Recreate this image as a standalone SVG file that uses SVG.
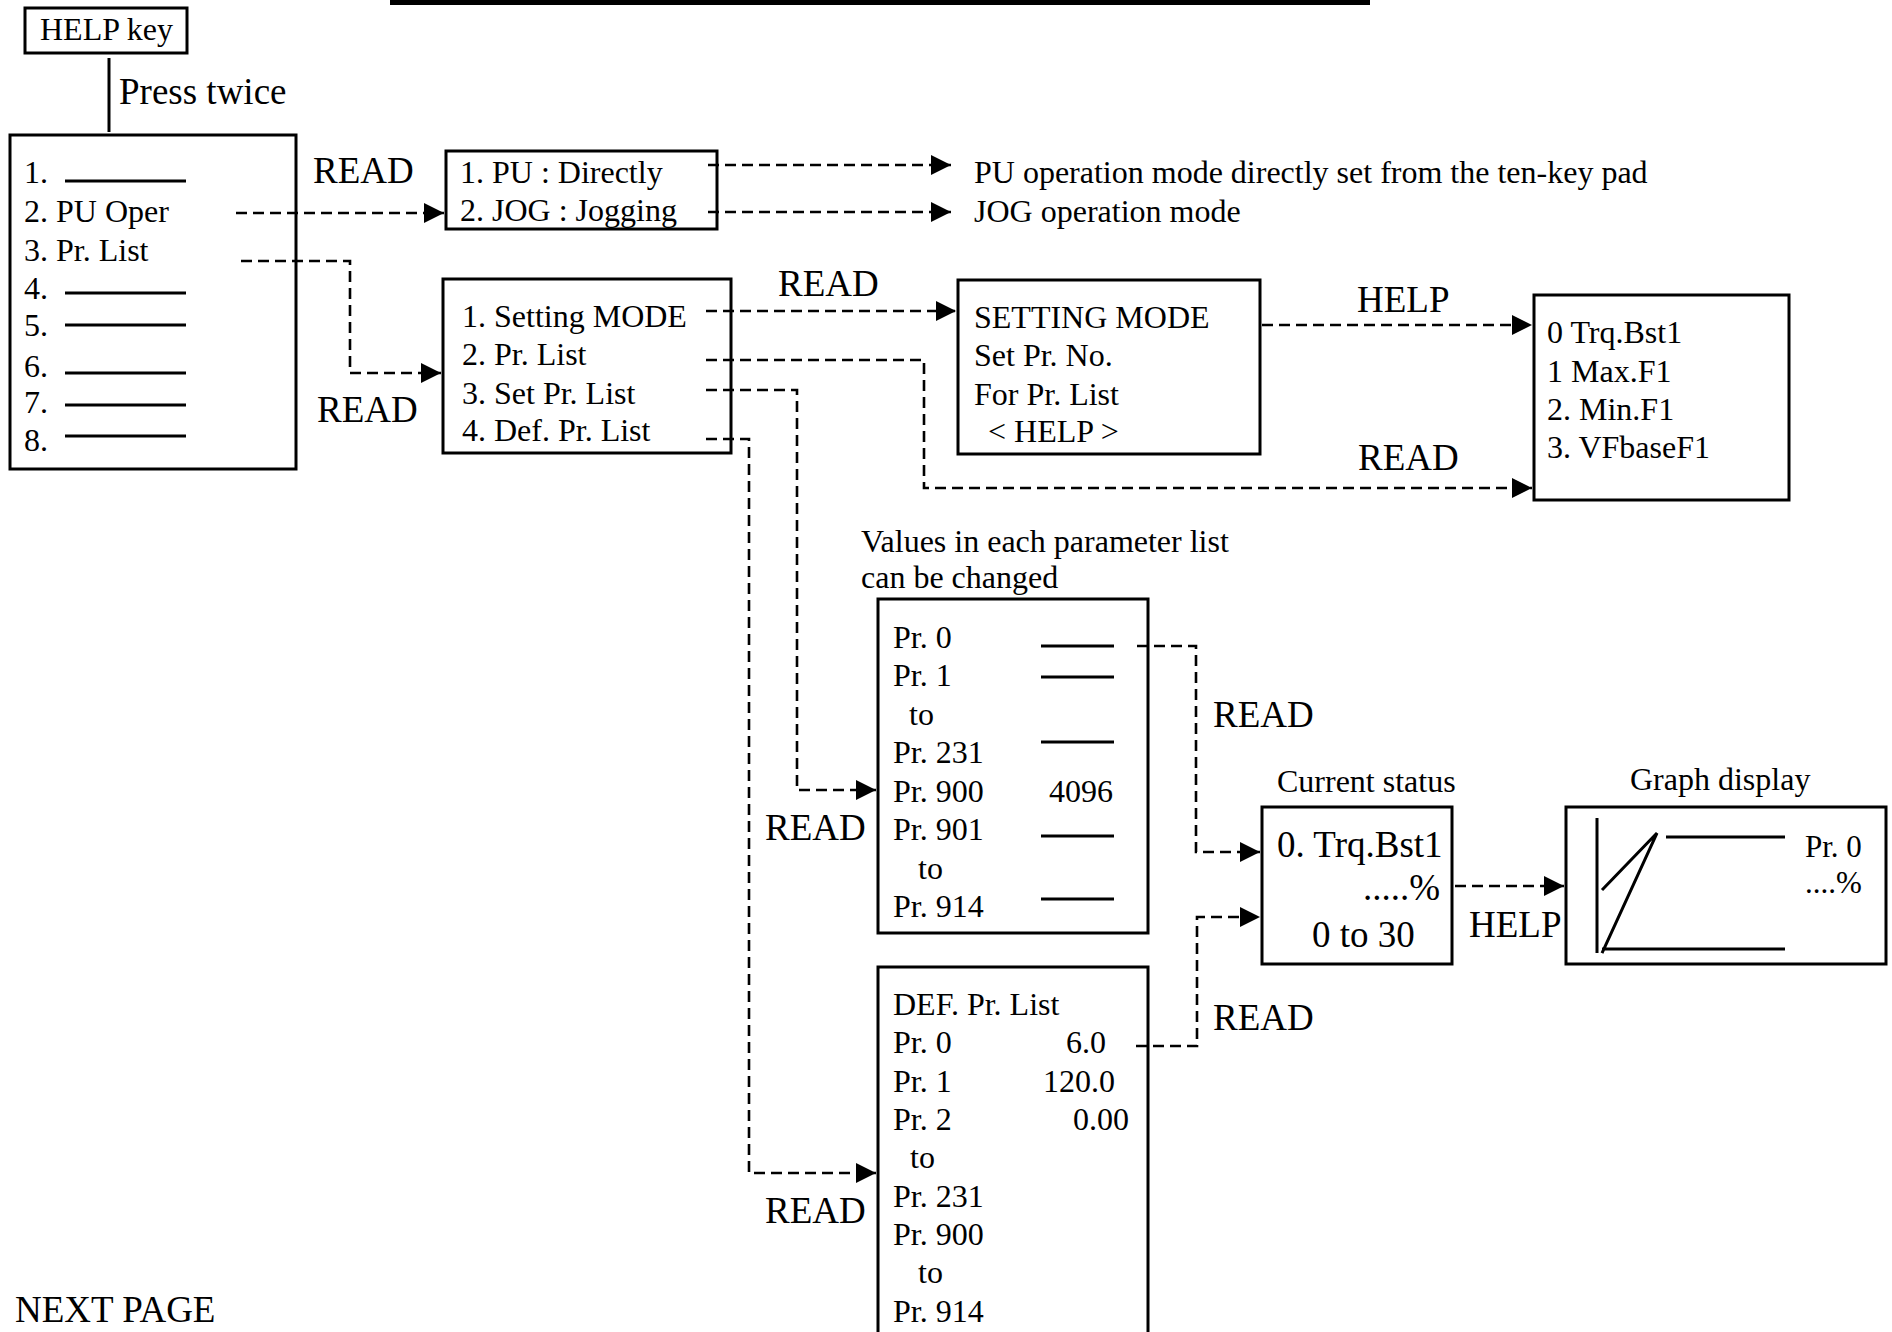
<svg xmlns="http://www.w3.org/2000/svg" width="1892" height="1332" viewBox="0 0 1892 1332">
<style>
.box{fill:#fff;stroke:#000;stroke-width:3}
.t{font-family:"Liberation Serif","Times New Roman",serif;font-size:32px;fill:#000}
.b{font-size:37px}
.s{font-size:31px}
.ln{stroke:#000;stroke-width:3;fill:none}
.d{fill:none;stroke:#000;stroke-width:2.6;stroke-dasharray:11 6;marker-end:url(#ah)}
</style>
<defs>
<marker id="ah" markerUnits="userSpaceOnUse" markerWidth="20" markerHeight="20" refX="20" refY="10" orient="auto">
<path d="M0,0 L20,10 L0,20 z" fill="#000"/>
</marker>
</defs>
<rect x="0" y="0" width="1892" height="1332" fill="#fff"/>
<rect x="390" y="0" width="980" height="5" fill="#000"/>

<g id="help-key">
<rect class="box" x="25" y="8" width="162" height="45"/>
<text class="t" x="40" y="40">HELP key</text>
</g>

<g id="main-menu">
<rect class="box" x="10" y="135" width="286" height="334"/>
<text class="t" x="24" y="183">1.</text>
<text class="t" x="24" y="222">2. PU Oper</text>
<text class="t" x="24" y="261">3. Pr. List</text>
<text class="t" x="24" y="299">4.</text>
<text class="t" x="24" y="336">5.</text>
<text class="t" x="24" y="377">6.</text>
<text class="t" x="24" y="413">7.</text>
<text class="t" x="24" y="451">8.</text>
<path class="ln" d="M65,181H186M65,293H186M65,325H186M65,373H186M65,405H186M65,436H186"/>
</g>

<g id="pu-menu">
<rect class="box" x="446" y="151" width="271" height="78"/>
<text class="t" x="460" y="183">1. PU : Directly</text>
<text class="t" x="460" y="221">2. JOG : Jogging</text>
</g>

<g id="pu-notes">
<text class="t" x="974" y="183">PU operation mode directly set from the ten-key pad</text>
<text class="t" x="974" y="222">JOG operation mode</text>
</g>

<g id="pr-menu">
<rect class="box" x="443" y="279" width="288" height="174"/>
<text class="t" x="462" y="327">1. Setting MODE</text>
<text class="t" x="462" y="365">2. Pr. List</text>
<text class="t" x="462" y="404">3. Set Pr. List</text>
<text class="t" x="462" y="441">4. Def. Pr. List</text>
</g>

<g id="setting-mode">
<rect class="box" x="958" y="280" width="302" height="174"/>
<text class="t" x="974" y="328">SETTING MODE</text>
<text class="t" x="974" y="366">Set Pr. No.</text>
<text class="t" x="974" y="405">For Pr. List</text>
<text class="t" x="988" y="442">&lt; HELP &gt;</text>
</g>

<g id="help-list">
<rect class="box" x="1534" y="295" width="255" height="205"/>
<text class="t" x="1547" y="343">0 Trq.Bst1</text>
<text class="t" x="1547" y="382">1 Max.F1</text>
<text class="t" x="1547" y="420">2. Min.F1</text>
<text class="t" x="1547" y="458">3. VFbaseF1</text>
</g>

<g id="set-list">
<text class="t" x="861" y="552">Values in each parameter list</text>
<text class="t" x="861" y="588">can be changed</text>
<rect class="box" x="878" y="599" width="270" height="334"/>
<text class="t" x="893" y="648">Pr. 0</text>
<text class="t" x="893" y="686">Pr. 1</text>
<text class="t" x="909" y="725">to</text>
<text class="t" x="893" y="763">Pr. 231</text>
<text class="t" x="893" y="802">Pr. 900</text>
<text class="t" x="1049" y="802">4096</text>
<text class="t" x="893" y="840">Pr. 901</text>
<text class="t" x="918" y="879">to</text>
<text class="t" x="893" y="917">Pr. 914</text>
<path class="ln" d="M1041,646H1114M1041,677H1114M1041,742H1114M1041,836H1114M1041,899H1114"/>
</g>

<g id="def-list">
<rect class="box" x="878" y="967" width="270" height="372"/>
<text class="t" x="893" y="1015">DEF. Pr. List</text>
<text class="t" x="893" y="1053">Pr. 0</text>
<text class="t" x="1066" y="1053">6.0</text>
<text class="t" x="893" y="1092">Pr. 1</text>
<text class="t" x="1043" y="1092">120.0</text>
<text class="t" x="893" y="1130">Pr. 2</text>
<text class="t" x="1073" y="1130">0.00</text>
<text class="t" x="910" y="1168">to</text>
<text class="t" x="893" y="1207">Pr. 231</text>
<text class="t" x="893" y="1245">Pr. 900</text>
<text class="t" x="918" y="1283">to</text>
<text class="t" x="893" y="1322">Pr. 914</text>
</g>

<g id="current-status">
<text class="t" x="1277" y="792">Current status</text>
<rect class="box" x="1262" y="807" width="190" height="157"/>
<text class="t b" x="1277" y="857">0. Trq.Bst1</text>
<text class="t b" x="1363" y="900">.....%</text>
<text class="t b" x="1312" y="947">0 to 30</text>
</g>

<g id="graph-display">
<text class="t" x="1630" y="790">Graph display</text>
<rect class="box" x="1566" y="807" width="320" height="157"/>
<path class="ln" d="M1597,818V953M1602,890L1657,833L1602,953M1666,837H1785M1602,949H1785"/>
<text class="t s" x="1805" y="857">Pr. 0</text>
<text class="t s" x="1805" y="893">....%</text>
</g>

<g id="connectors">
<line x1="109" y1="58" x2="109" y2="132" class="ln"/>
<path class="d" d="M236,213H444"/>
<path class="d" d="M241,261H350V373H441"/>
<path class="d" d="M708,165H951"/>
<path class="d" d="M708,212H951"/>
<path class="d" d="M706,311H956"/>
<path class="d" d="M706,360H924V488H1532"/>
<path class="d" d="M706,390H797V790H876"/>
<path class="d" d="M706,439H749V1173H876"/>
<path class="d" d="M1262,325H1532"/>
<path class="d" d="M1137,646H1196V852H1260"/>
<path class="d" d="M1136,1046H1197V917H1260"/>
<path class="d" d="M1455,886H1564"/>
</g>

<g id="labels">
<text class="t b" x="119" y="104">Press twice</text>
<text class="t b" x="313" y="183">READ</text>
<text class="t b" x="317" y="422">READ</text>
<text class="t b" x="778" y="296">READ</text>
<text class="t b" x="1357" y="312">HELP</text>
<text class="t b" x="1358" y="470">READ</text>
<text class="t b" x="1213" y="727">READ</text>
<text class="t b" x="1213" y="1030">READ</text>
<text class="t b" x="765" y="840">READ</text>
<text class="t b" x="765" y="1223">READ</text>
<text class="t b" x="1469" y="937">HELP</text>
<text class="t b" x="15" y="1322">NEXT PAGE</text>
</g>
</svg>
